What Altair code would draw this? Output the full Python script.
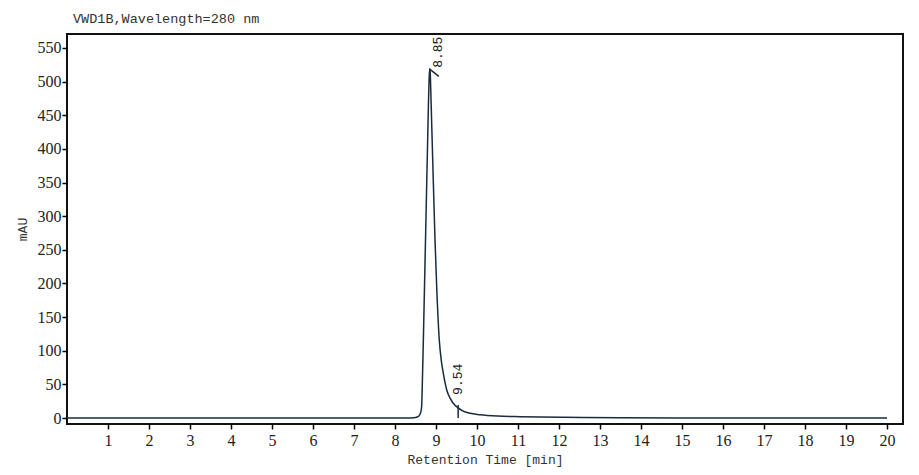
import altair as alt
import pandas as pd

# Chromatogram trace (time in min, signal in mAU)
times = [0, 8.40, 8.50, 8.56, 8.60, 8.63, 8.65, 8.67, 8.70, 8.73, 8.76, 8.79, 8.815, 8.835,
         8.85, 8.86, 8.88, 8.92, 8.976, 9.02, 9.08, 9.13, 9.18, 9.26, 9.34, 9.42, 9.54,
         9.65, 9.83, 10.07, 10.5, 11.05, 12.1, 13.5, 15, 20]
signal = [0, 0.2, 0.8, 2, 4.5, 9, 17, 60, 140, 225, 310, 395, 465, 508,
          519, 512, 470, 383, 264, 190, 116, 85, 66, 42, 30, 22, 15,
          10.5, 7, 5, 3, 2, 1, 0.5, 0.2, 0]

# Peak annotations
peak_times = [8.85, 9.54]
peak_heights = [519, 15]
peak_labels = ["8.85", "9.54"]

x_ticks = list(range(1, 21))
y_ticks = list(range(0, 551, 50))

trace = pd.DataFrame({"t": times, "v": signal})
peaks = pd.DataFrame({"t": peak_times, "v": peak_heights, "label": peak_labels})

x_scale = alt.Scale(domain=[0, 20.39], nice=False, zero=False)
y_scale = alt.Scale(domain=[-8.9, 570.8], nice=False, zero=False)

x_axis = alt.Axis(values=x_ticks, format="d", title="Retention Time [min]", grid=False,
                  domain=False, tickSize=5, tickColor="black", tickWidth=1.5,
                  labelPadding=3, labelFont="Liberation Serif", labelFontSize=16,
                  labelColor="#222222", labelOverlap=False,
                  titleFont="Liberation Mono", titleFontSize=13,
                  titleFontWeight="normal", titleColor="#333333",
                  titleY=35, titleBaseline="middle")
y_axis = alt.Axis(values=y_ticks, format="d", title="mAU", grid=False,
                  domain=False, tickSize=5, tickColor="black", tickWidth=1.5,
                  labelPadding=1, labelFont="Liberation Serif", labelFontSize=16,
                  labelColor="#222222", labelOverlap=False,
                  titleFont="Liberation Mono", titleFontSize=13,
                  titleFontWeight="normal", titleColor="#333333",
                  titleX=-45, titleY=195, titleBaseline="middle", titleAngle=270)


def X(field):
    return alt.X(field, scale=x_scale, axis=x_axis, title="Retention Time [min]")


def Y(field):
    return alt.Y(field, scale=y_scale, axis=y_axis, title="mAU")


line = alt.Chart(trace).mark_line(color="#1a2b3d", strokeWidth=1.5,
                                  interpolate="monotone").encode(
    x=X("t:Q"), y=Y("v:Q"),
)

p1 = peaks[peaks["label"] == "8.85"]
p2 = peaks[peaks["label"] == "9.54"]

mark1 = alt.Chart(p1).mark_rule(color="#1a2b3d", strokeWidth=1.5,
                                x2Offset=9, y2Offset=7.5, xOffset=-0.5).encode(
    x=X("t:Q"), x2="t:Q", y=Y("v:Q"), y2="v:Q",
)
text1 = alt.Chart(p1).mark_text(angle=270, align="left", baseline="middle",
                                font="Liberation Mono", fontSize=13, color="#222222",
                                dx=1, dy=8).encode(
    x=X("t:Q"), y=Y("v:Q"), text="label:N",
)

mark2 = alt.Chart(p2).mark_rule(color="#1a2b3d", strokeWidth=1.5, y2Offset=-3).encode(
    x=X("t:Q"), y=Y("zero:Q"), y2="v:Q",
).transform_calculate(zero="0")
text2 = alt.Chart(p2).mark_text(angle=270, align="left", baseline="middle",
                                font="Liberation Mono", fontSize=13, color="#222222",
                                dx=13, dy=0).encode(
    x=X("t:Q"), y=Y("v:Q"), text="label:N",
)

chart = alt.layer(line, mark1, text1, mark2, text2).properties(
    width=836, height=390,
    background="white",
    view=alt.ViewBackground(stroke="#111111", strokeWidth=2),
    autosize=alt.AutoSizeParams(type="none"),
    padding={"left": 59, "top": 26, "right": 8, "bottom": 43},
    title=alt.Title("VWD1B,Wavelength=280 nm", anchor="start", frame="group",
                    dx=6, dy=13,
                    font="Liberation Mono", fontSize=13.5, fontWeight="normal",
                    color="#333333", baseline="alphabetic", offset=11),
).configure_view(stroke="#111111", strokeWidth=2)

chart.save("out.html", embed_options={"renderer": "svg", "actions": False})
